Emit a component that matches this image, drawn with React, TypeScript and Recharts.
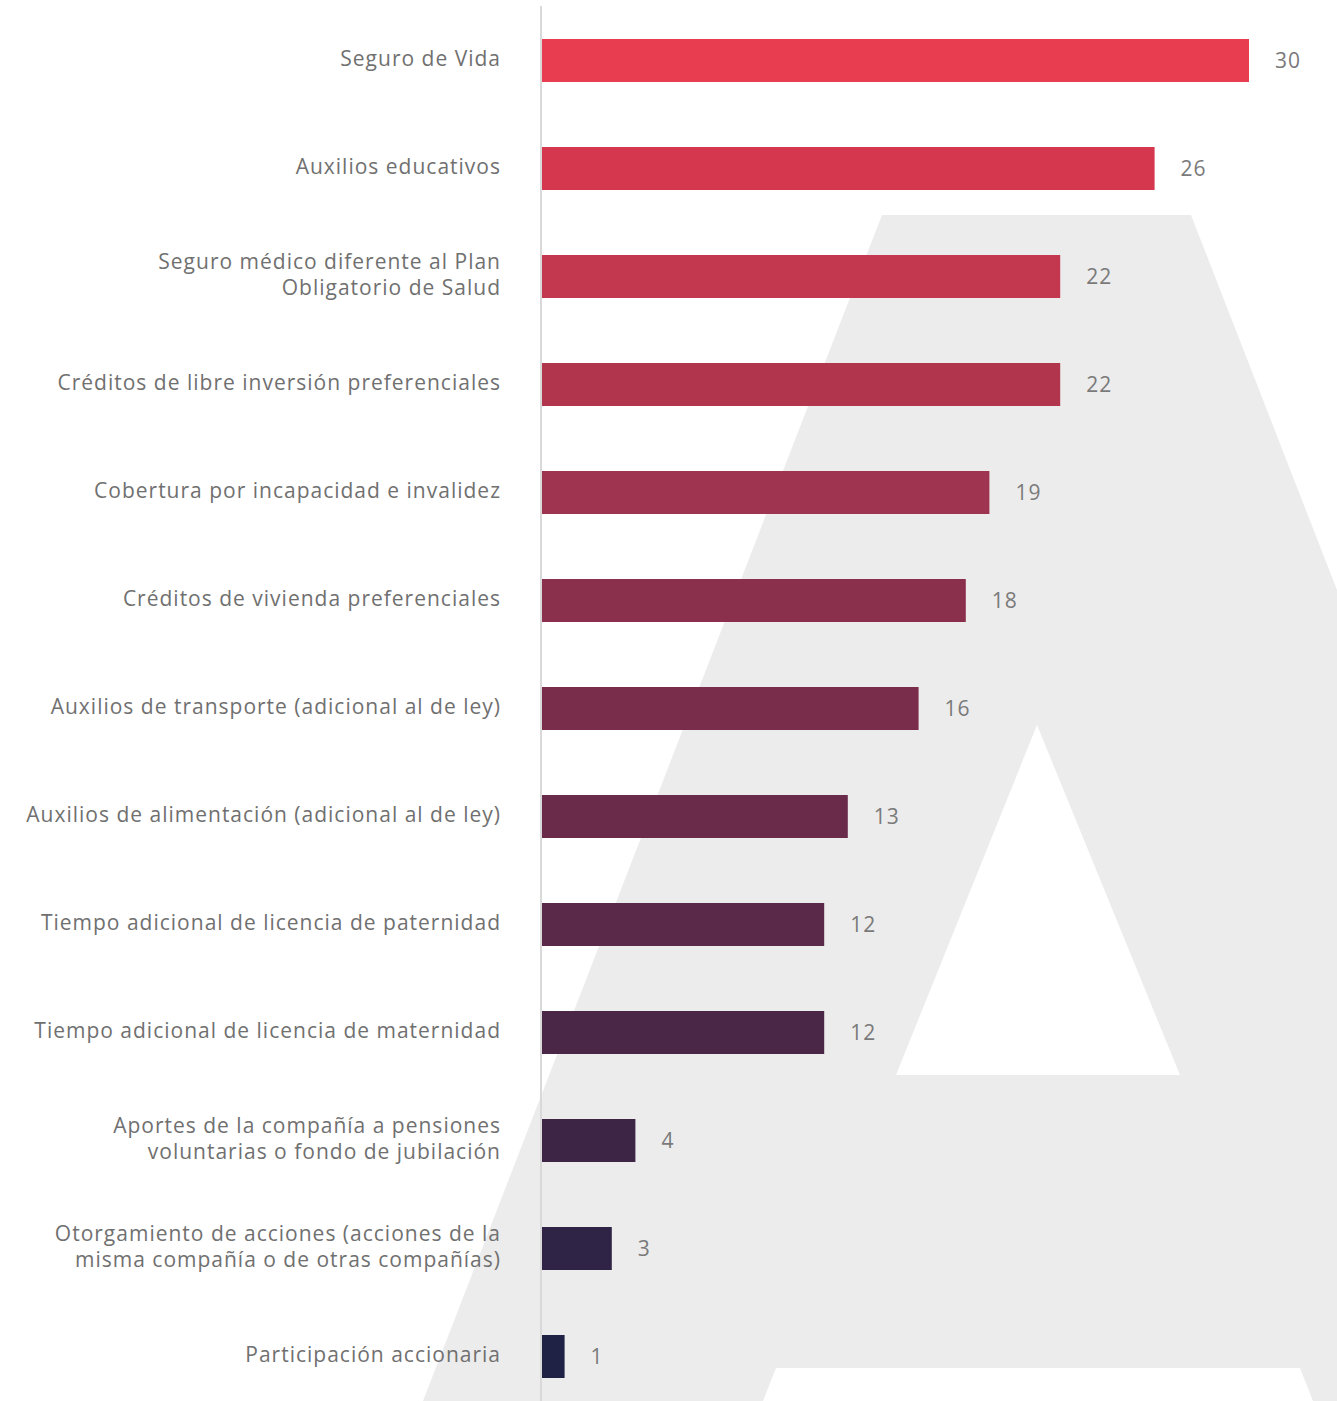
import React from 'react';
import { BarChart, Bar, XAxis, YAxis, Cell, LabelList } from 'recharts';

const categories = [
  'Seguro de Vida',
  'Auxilios educativos',
  'Seguro médico diferente al Plan\nObligatorio de Salud',
  'Créditos de libre inversión preferenciales',
  'Cobertura por incapacidad e invalidez',
  'Créditos de vivienda preferenciales',
  'Auxilios de transporte (adicional al de ley)',
  'Auxilios de alimentación (adicional al de ley)',
  'Tiempo adicional de licencia de paternidad',
  'Tiempo adicional de licencia de maternidad',
  'Aportes de la compañía a pensiones\nvoluntarias o fondo de jubilación',
  'Otorgamiento de acciones (acciones de la\nmisma compañía o de otras compañías)',
  'Participación accionaria',
];

const values = [30, 26, 22, 22, 19, 18, 16, 13, 12, 12, 4, 3, 1];

const barColors = [
  '#E83C50', '#D5384E', '#C3384F', '#B0354D', '#9E344F', '#8A304C', '#7A2D4B',
  '#6A2B4A', '#5A2848', '#4A2647', '#3D2546', '#2F2445', '#1F2244',
];

const data = categories.map((name, i) => ({ name, value: values[i] }));

const FONT = '"Open Sans", "Noto Sans", sans-serif';
const TEXT_COLOR = '#707070';

const CategoryTick = (props: any) => {
  const { x, y, payload } = props;
  const lines = String(payload.value).split('\n');
  const lh = 26;
  const y0 = y - ((lines.length - 1) * lh) / 2 + 6;
  return (
    <text
      textAnchor="end"
      fill={TEXT_COLOR}
      fontSize={21}
      letterSpacing={1}
      fontFamily={FONT}
    >
      {lines.map((l: string, i: number) => (
        <tspan key={i} x={x + 1} y={y0 + i * lh}>
          {l}
        </tspan>
      ))}
    </text>
  );
};

const Background = () => (
  <svg
    width={1337}
    height={1401}
    style={{ position: 'absolute', left: 0, top: 0 }}
  >
    <polygon
      points="423,1401 882,215 1191,215 1337,590 1337,1401"
      fill="#ECECEC"
    />
    <polygon points="1037,725 896,1075 1180,1075" fill="#FFFFFF" />
    <polygon points="776,1368 1300,1368 1313,1401 763,1401" fill="#FFFFFF" />
  </svg>
);

export default function App() {
  return (
    <div
      style={{
        position: 'absolute',
        left: 0,
        top: 0,
        width: 1337,
        height: 1401,
        overflow: 'hidden',
        background: '#fff',
      }}
    >
      <Background />
      <div style={{ position: 'absolute', left: 0, top: 0 }}>
        <BarChart
          width={1337}
          height={1410}
          data={data}
          layout="vertical"
          margin={{ top: 6, right: 88, bottom: 0, left: 0 }}
        >
          <XAxis type="number" domain={[0, 30]} hide />
          <YAxis
            type="category"
            dataKey="name"
            width={541}
            tickLine={false}
            tickSize={0}
            tickMargin={41}
            axisLine={{ stroke: '#D9D9D9', strokeWidth: 2 }}
            tick={<CategoryTick />}
            interval={0}
          />
          <Bar dataKey="value" barSize={43} isAnimationActive={false}>
            {data.map((d, i) => (
              <Cell key={d.name} fill={barColors[i]} />
            ))}
            <LabelList
              dataKey="value"
              position="right"
              offset={26}
              fill="#7A7A7A"
              fontSize={21}
              letterSpacing={1}
              fontFamily={FONT}
            />
          </Bar>
        </BarChart>
      </div>
    </div>
  );
}
